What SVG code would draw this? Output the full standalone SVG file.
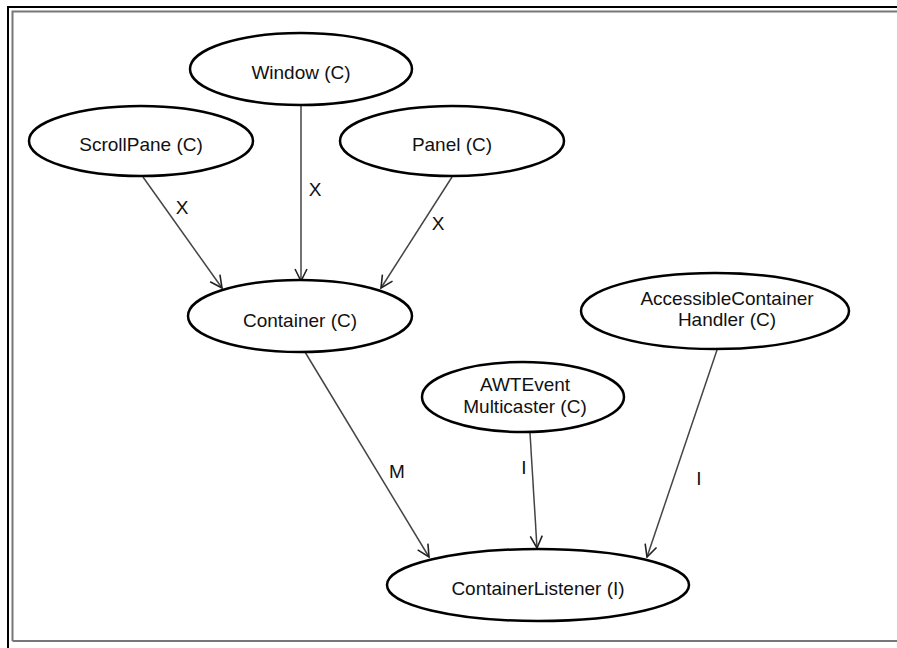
<svg xmlns="http://www.w3.org/2000/svg" width="897" height="648" viewBox="0 0 897 648">
<style>
.n ellipse{fill:#fff;stroke:#000;stroke-width:2.5}
.n text,.lbl{font-family:"Liberation Sans",Arial,sans-serif;font-size:19px;fill:#111;text-anchor:middle}
.e line{stroke:#444;stroke-width:1.5;fill:none}
</style>
<defs>
<marker id="a" viewBox="0 0 14 14" refX="13" refY="7" markerWidth="14" markerHeight="14" markerUnits="userSpaceOnUse" orient="auto">
<path d="M1,1 L13,7 L1,13" fill="none" stroke="#222" stroke-width="1.6"/>
</marker>
</defs>
<rect x="0" y="0" width="897" height="648" fill="#fff"/>
<path d="M8,648 V7 H897" fill="none" stroke="#000" stroke-width="2"/>
<path d="M12.5,641 V11.5 H897 M12.5,641 H897" fill="none" stroke="#777" stroke-width="2"/>
<g class="e">
<line x1="143" y1="177" x2="222" y2="288" marker-end="url(#a)"/>
<line x1="301" y1="105" x2="301" y2="281" marker-end="url(#a)"/>
<line x1="452" y1="177" x2="381" y2="288" marker-end="url(#a)"/>
<line x1="305" y1="352" x2="429" y2="557" marker-end="url(#a)"/>
<line x1="530" y1="433" x2="537" y2="548" marker-end="url(#a)"/>
<line x1="717" y1="350" x2="647" y2="557" marker-end="url(#a)"/>
<text class="lbl" x="182" y="214">X</text>
<text class="lbl" x="315" y="196">X</text>
<text class="lbl" x="438" y="230">X</text>
<text class="lbl" x="397" y="478">M</text>
<text class="lbl" x="524" y="474">I</text>
<text class="lbl" x="699" y="485">I</text>
</g>
<g class="n" id="window"><ellipse cx="301" cy="69" rx="111" ry="36"/><text x="301" y="79">Window (C)</text></g>
<g class="n" id="scrollpane"><ellipse cx="141" cy="141" rx="112" ry="35"/><text x="141" y="151">ScrollPane (C)</text></g>
<g class="n" id="panel"><ellipse cx="452" cy="141" rx="112" ry="35"/><text x="452" y="151">Panel (C)</text></g>
<g class="n" id="container"><ellipse cx="300" cy="316" rx="112" ry="36"/><text x="300" y="327">Container (C)</text></g>
<g class="n" id="accessible"><ellipse cx="715" cy="311" rx="134" ry="38"/><text x="727" y="305">AccessibleContainer</text><text x="727" y="326">Handler (C)</text></g>
<g class="n" id="awtevent"><ellipse cx="523" cy="397" rx="101" ry="35"/><text x="525" y="391">AWTEvent</text><text x="525" y="413">Multicaster (C)</text></g>
<g class="n" id="listener"><ellipse cx="538" cy="585" rx="151" ry="36"/><text x="538" y="595">ContainerListener (I)</text></g>
</svg>
